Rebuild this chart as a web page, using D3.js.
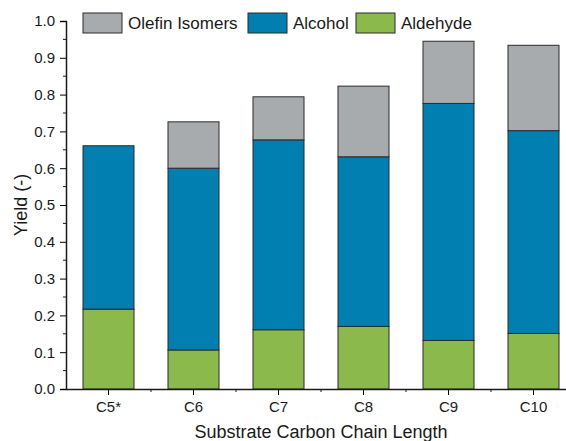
<!DOCTYPE html>
<html>
<head>
<meta charset="utf-8">
<script src="https://cdn.jsdelivr.net/npm/d3@7"></script>
<style>
  body { margin: 0; background: #fff; }
  text { font-family: "Liberation Sans", Arial, sans-serif; fill: #1a1a1a; }
</style>
</head>
<body>
<script>
// chain lengths and yields per product (stacked bottom -> top)
var categories = ["C5*", "C6", "C7", "C8", "C9", "C10"];
var aldehyde = [0.217, 0.106, 0.161, 0.170, 0.132, 0.151];
var alcohol  = [0.444, 0.494, 0.516, 0.461, 0.644, 0.551];
var olefin   = [0.000, 0.126, 0.117, 0.192, 0.169, 0.232];
var yTicks = [0.0, 0.1, 0.2, 0.3, 0.4, 0.5, 0.6, 0.7, 0.8, 0.9, 1.0];

var seriesNames = ["Aldehyde", "Alcohol", "Olefin Isomers"];
var colors = {"Aldehyde": "#8cb94b", "Alcohol": "#007fb0", "Olefin Isomers": "#a7abae"};

var width = 566, height = 441;
var margin = {top: 21, right: -10, bottom: 52, left: 66};

var table = categories.map(function(c, i) {
    return {cat: c, "Aldehyde": aldehyde[i], "Alcohol": alcohol[i], "Olefin Isomers": olefin[i]};
});
var stacked = d3.stack().keys(seriesNames)(table);

var x = d3.scaleBand()
    .domain(categories)
    .range([margin.left, width - margin.right])
    .paddingInner(0.4)
    .paddingOuter(0.2);

var y = d3.scaleLinear()
    .domain([0, 1])
    .range([height - margin.bottom, margin.top]);

var svg = d3.select("body").append("svg")
    .attr("width", width)
    .attr("height", height);

// bars
svg.selectAll("g.series")
    .data(stacked)
    .enter().append("g")
    .attr("class", "series")
    .attr("fill", function(d) { return colors[d.key]; })
    .selectAll("rect")
    .data(function(d) { return d.filter(function(p) { return p[1] - p[0] > 0; }); })
    .enter().append("rect")
    .attr("x", function(d) { return x(d.data.cat); })
    .attr("width", x.bandwidth())
    .attr("y", function(d) { return y(d[1]); })
    .attr("height", function(d) { return y(d[0]) - y(d[1]); })
    .attr("stroke", "#2b2b2b")
    .attr("stroke-width", 1);

// y axis with minor ticks
var yAxis = svg.append("g")
    .attr("transform", "translate(" + margin.left + ",0)")
    .call(d3.axisLeft(y).tickValues(yTicks).tickFormat(d3.format(".1f")).tickSize(6).tickPadding(5));
yAxis.selectAll(".tick text").style("font-size", "15px").attr("font-family", "Liberation Sans, Arial, sans-serif");
var yMinor = d3.range(0.05, 1, 0.1);
svg.append("g").selectAll("line")
    .data(yMinor)
    .enter().append("line")
    .attr("x1", margin.left - 3).attr("x2", margin.left)
    .attr("y1", function(d) { return y(d); }).attr("y2", function(d) { return y(d); })
    .attr("stroke", "#1a1a1a");

// x axis
var xAxis = svg.append("g")
    .attr("transform", "translate(0," + (height - margin.bottom) + ")")
    .call(d3.axisBottom(x).tickSize(6).tickPadding(6).tickSizeOuter(0));
xAxis.selectAll(".tick text").style("font-size", "15px").attr("font-family", "Liberation Sans, Arial, sans-serif");
var xMinor = categories.slice(1).map(function(c) { return x(c) - x.step() * x.paddingInner() / 2; });
svg.append("g").selectAll("line")
    .data(xMinor)
    .enter().append("line")
    .attr("x1", function(d) { return d; }).attr("x2", function(d) { return d; })
    .attr("y1", height - margin.bottom).attr("y2", height - margin.bottom + 3)
    .attr("stroke", "#1a1a1a");
svg.selectAll(".domain").attr("stroke", "#1a1a1a").attr("stroke-width", 1.5);

// axis titles
svg.append("text")
    .attr("transform", "translate(27," + ((margin.top + height - margin.bottom) / 2) + ") rotate(-90)")
    .attr("text-anchor", "middle")
    .style("font-size", "18px")
    .text("Yield (-)");

svg.append("text")
    .attr("x", (margin.left + width - margin.right) / 2)
    .attr("y", 438)
    .attr("text-anchor", "middle")
    .style("font-size", "18px")
    .text("Substrate Carbon Chain Length");

// legend
var legendItems = [
    {name: "Olefin Isomers", x: 83},
    {name: "Alcohol", x: 248},
    {name: "Aldehyde", x: 356}
];
var legend = svg.selectAll("g.legend")
    .data(legendItems)
    .enter().append("g")
    .attr("class", "legend")
    .attr("transform", function(d) { return "translate(" + d.x + ",13)"; });
legend.append("rect")
    .attr("width", 39).attr("height", 20)
    .attr("fill", function(d) { return colors[d.name]; })
    .attr("stroke", "#2b2b2b");
legend.append("text")
    .attr("x", 45).attr("y", 16)
    .style("font-size", "17px")
    .text(function(d) { return d.name; });
</script>
</body>
</html>
